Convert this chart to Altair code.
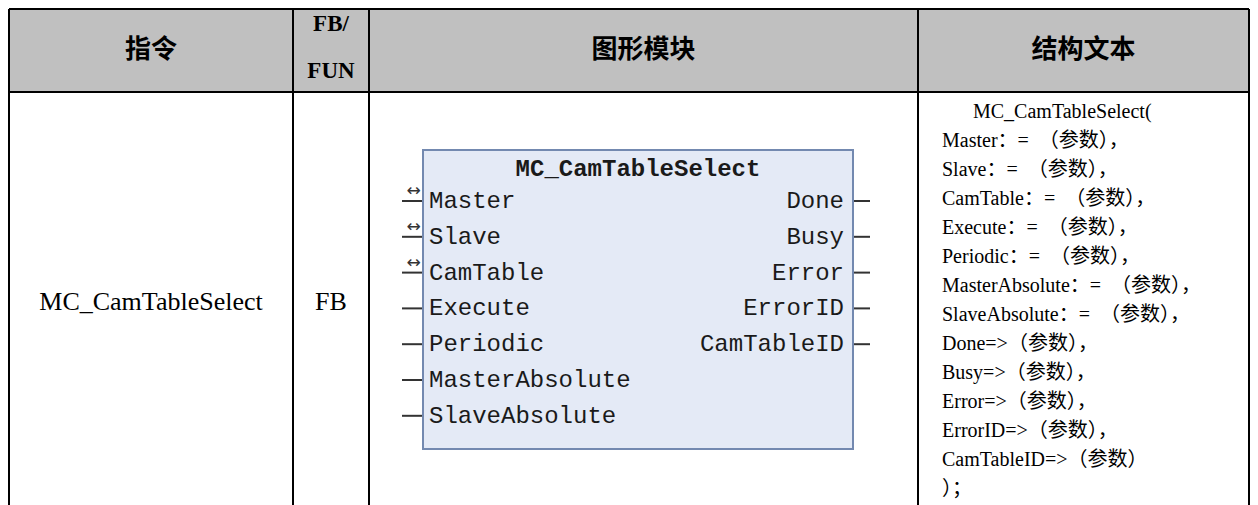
import altair as alt
import pandas as pd

# ---------------- data ----------------
HEADERS = ["指令", "FB/\nFUN", "图形模块", "结构文本"]
ROW_VALUES = ["MC_CamTableSelect", "FB"]
BLOCK_TITLE = "MC_CamTableSelect"
INPUT_PINS = ["Master", "Slave", "CamTable", "Execute", "Periodic",
              "MasterAbsolute", "SlaveAbsolute"]
INOUT_PINS = ["Master", "Slave", "CamTable"]
OUTPUT_PINS = ["Done", "Busy", "Error", "ErrorID", "CamTableID"]
ST_LINES = [
    "MC_CamTableSelect(",
    "Master：= \u00a0（参数），",
    "Slave：= \u00a0（参数），",
    "CamTable：= \u00a0（参数），",
    "Execute：= \u00a0（参数），",
    "Periodic：= \u00a0（参数），",
    "MasterAbsolute：= \u00a0（参数），",
    "SlaveAbsolute：= \u00a0（参数），",
    "Done=>（参数），",
    "Busy=>（参数），",
    "Error=>（参数），",
    "ErrorID=>（参数），",
    "CamTableID=>（参数）",
    "）；",
]

# ---------------- layout ----------------
W, H = 1242, 489
X0, Y0 = 8, 8
COL_EDGES = [9, 293, 369, 918, 1249]
TABLE_TOP = 9
HEADER_BOTTOM = 92
TABLE_BOTTOM = 505
BOX_X, BOX_X2, BOX_Y, BOX_Y2 = 423, 853, 150, 449
TITLE_Y = 169
PIN_Y0, PIN_DY = 201, 35.8
IN_TEXT_X, OUT_TEXT_X = 429, 844
IN_STUB_X, OUT_STUB_X = 402, 870
ST_X, ST_Y0, ST_DY = 942, 112, 29
ST_FIRST_INDENT = 31
BODY_Y = 302

xs = alt.Scale(domain=[X0, X0 + W], nice=False, zero=False)
ys = alt.Scale(domain=[Y0, Y0 + H], nice=False, zero=False, reverse=True)


def X(f="x"):
    return alt.X(f"{f}:Q", scale=xs, axis=None)


def Y(f="y"):
    return alt.Y(f"{f}:Q", scale=ys, axis=None)


centers = [(COL_EDGES[i] + COL_EDGES[i + 1]) / 2 for i in range(4)]

# header background
hdr_bg = alt.Chart(pd.DataFrame({
    "x": [COL_EDGES[0]], "x2": [COL_EDGES[-1]],
    "y": [TABLE_TOP], "y2": [HEADER_BOTTOM]})).mark_rect(
    color="#C0C0C0").encode(x=X(), x2="x2", y=Y(), y2="y2")

# block box
box = alt.Chart(pd.DataFrame({
    "x": [BOX_X], "x2": [BOX_X2], "y": [BOX_Y], "y2": [BOX_Y2]})).mark_rect(
    fill="#E4EAF6", stroke="#7389B0", strokeWidth=2).encode(
    x=X(), x2="x2", y=Y(), y2="y2")

# pin stubs
stub_rows = []
for i, _ in enumerate(INPUT_PINS):
    stub_rows.append({"x": IN_STUB_X, "x2": BOX_X - 1, "y": PIN_Y0 + i * PIN_DY})
for i, _ in enumerate(OUTPUT_PINS):
    stub_rows.append({"x": BOX_X2 + 1, "x2": OUT_STUB_X, "y": PIN_Y0 + i * PIN_DY})
stubs = alt.Chart(pd.DataFrame(stub_rows)).mark_rule(
    color="#333333", strokeWidth=2).encode(x=X(), x2="x2", y=Y())

# in-out arrows
arrows = alt.Chart(pd.DataFrame({
    "x": [(IN_STUB_X + BOX_X) / 2 + 1] * len(INOUT_PINS),
    "y": [PIN_Y0 + INPUT_PINS.index(p) * PIN_DY - 10 for p in INOUT_PINS],
    "t": ["↔"] * len(INOUT_PINS)})).mark_text(
    font="DejaVu Sans", fontSize=17, color="#333333", baseline="middle").encode(
    x=X(), y=Y(), text="t:N")

# table lines
line_rows = []
for cx in COL_EDGES:
    line_rows.append({"x": cx, "x2": cx, "y": TABLE_TOP, "y2": TABLE_BOTTOM})
for yy in (TABLE_TOP, HEADER_BOTTOM):
    line_rows.append({"x": COL_EDGES[0], "x2": COL_EDGES[-1], "y": yy, "y2": yy})
lines = alt.Chart(pd.DataFrame(line_rows)).mark_rule(
    color="black", strokeWidth=2).encode(x=X(), x2="x2", y=Y(), y2="y2")

# header texts
hdr_cn = alt.Chart(pd.DataFrame({
    "x": [centers[0], centers[2], centers[3]],
    "y": [50, 50, 50],
    "t": [HEADERS[0], HEADERS[2], HEADERS[3]]})).mark_text(
    font="Noto Sans CJK SC", fontSize=26, fontWeight="bold", color="black",
    baseline="middle").encode(x=X(), y=Y(), text="t:N")
hdr_fb = alt.Chart(pd.DataFrame({
    "x": [centers[1]], "y": [24], "t": [HEADERS[1]]})).mark_text(
    font="Liberation Serif", fontSize=23, fontWeight="bold", color="black",
    baseline="middle", lineBreak="\n", lineHeight=47).encode(
    x=X(), y=Y(), text="t:N")

# body cells
body = alt.Chart(pd.DataFrame({
    "x": [centers[0], centers[1]], "y": [BODY_Y, BODY_Y],
    "t": ROW_VALUES})).mark_text(
    font="Liberation Serif", fontSize=26, color="black",
    baseline="middle").encode(x=X(), y=Y(), text="t:N")

# block title and pins
title = alt.Chart(pd.DataFrame({
    "x": [(BOX_X + BOX_X2) / 2], "y": [TITLE_Y], "t": [BLOCK_TITLE]})).mark_text(
    font="Liberation Mono", fontSize=24, fontWeight="bold", color="#1a1a1a",
    baseline="middle").encode(x=X(), y=Y(), text="t:N")
pins_in = alt.Chart(pd.DataFrame({
    "x": [IN_TEXT_X] * len(INPUT_PINS),
    "y": [PIN_Y0 + i * PIN_DY for i in range(len(INPUT_PINS))],
    "t": INPUT_PINS})).mark_text(
    font="Liberation Mono", fontSize=24, color="#1a1a1a", align="left",
    baseline="middle").encode(x=X(), y=Y(), text="t:N")
pins_out = alt.Chart(pd.DataFrame({
    "x": [OUT_TEXT_X] * len(OUTPUT_PINS),
    "y": [PIN_Y0 + i * PIN_DY for i in range(len(OUTPUT_PINS))],
    "t": OUTPUT_PINS})).mark_text(
    font="Liberation Mono", fontSize=24, color="#1a1a1a", align="right",
    baseline="middle").encode(x=X(), y=Y(), text="t:N")

# structured text
st = alt.Chart(pd.DataFrame({
    "x": [ST_X + (ST_FIRST_INDENT if i == 0 else 0) for i in range(len(ST_LINES))],
    "y": [ST_Y0 + i * ST_DY for i in range(len(ST_LINES))],
    "t": ST_LINES})).mark_text(
    font="Liberation Serif, Noto Sans CJK SC", fontSize=20, color="black",
    align="left", baseline="middle").encode(x=X(), y=Y(), text="t:N")

chart = alt.layer(
    hdr_bg, box, stubs, arrows, lines, hdr_cn, hdr_fb, body,
    title, pins_in, pins_out, st
).properties(width=W, height=H, padding=0).configure_view(stroke=None)

chart.save("out.html", embed_options={"renderer": "svg", "actions": False})
